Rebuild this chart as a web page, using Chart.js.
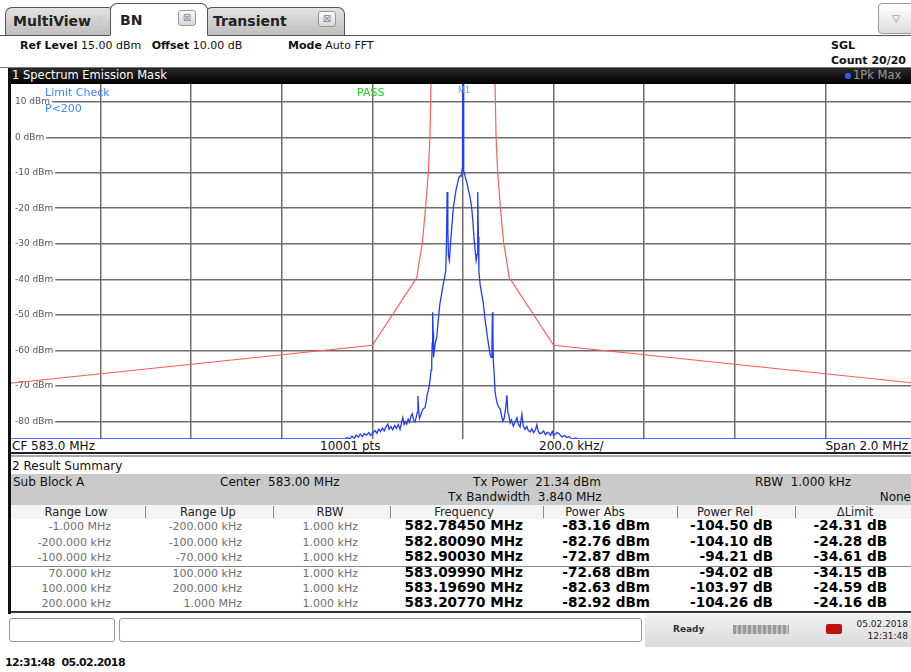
<!DOCTYPE html>
<html><head><meta charset="utf-8">
<script src="https://cdn.jsdelivr.net/npm/chart.js@4/dist/chart.umd.min.js"></script>
<style>
html,body{margin:0;padding:0;background:#fff;width:911px;height:672px;overflow:hidden;font-family:"DejaVu Sans",sans-serif;}
.a{position:absolute;white-space:nowrap;line-height:1;}
.tab{position:absolute;border:1px solid #555;border-bottom:none;border-radius:7px 7px 0 0;box-sizing:border-box;}
.cls{position:absolute;width:18px;height:16px;border:1px solid #999;border-radius:3px;background:linear-gradient(#fafafa,#d8d8d8);box-sizing:border-box;color:#888;font-size:10px;text-align:center;line-height:14px;}
</style></head><body>
<script>
// ---------------- data ----------------
const traceFreqKHz = [-1000,-262,-255,-250,-245,-240,-236,-231,-227,-222,-218,-213,-208,-204,-199,-194,-190,-186,-182,-178,-174,-170,-166,-163,-159,-155,-151,-147,-143,-139,-136,-133,-130,-127,-124,-121,-118,-115,-112,-109,-106,-103,-101,-99.5,-98,-96,-93,-90,-87,-84,-81,-79,-76,-74,-72,-70.5,-69,-68,-67,-66,-65,-62,-58,-55,-51,-47,-43.5,-40,-38,-36.5,-35,-33.5,-32,-30,-27,-24,-21,-18,-15.5,-12,-9.5,-6,-4,-2,-1,0,1,2,4,6,9,12,15,19,22,24,27,29,31,32.5,34,35,37.6,41,45,48,52,56,59.7,62,64,65,66,67,68.5,70.7,73,76,79,82,85,88,91,94,97,99,101,104,107,111,115,119,122,126,130,133,137,141,144,148,152,156,160,163,166,170,174,178,182,186,189,193,197,200,204,208,214,219,224,229,234,239,243,249,254,260,1000];
const traceDbm = [-85,-85,-84.6,-85,-84.2,-84.8,-83.9,-84.5,-83.6,-84.3,-83.5,-83.9,-83.2,-84.0,-83.3,-82.6,-83.4,-82.2,-82.9,-81.9,-82.7,-81.6,-80.8,-82.3,-81.5,-82.4,-81.2,-82.0,-80.9,-82.3,-80.6,-79.0,-80.9,-80.1,-80.8,-79.4,-80.3,-78.6,-77.9,-79.6,-80.2,-78.7,-77.5,-72.9,-76.8,-79.2,-78.1,-77.0,-76.4,-76.2,-74.3,-72.4,-71.1,-69.6,-67.5,-65.5,-63,-58,-49.3,-55,-62,-58.5,-56.4,-52,-46.9,-44,-41.3,-39,-37.5,-30,-15.4,-26,-33.5,-34.7,-29,-24,-19.6,-17,-14.9,-13,-11.5,-10.8,-11,-9,3,15,3,-9.5,-10.6,-11.7,-13,-14.9,-16.5,-19.6,-24,-28,-32,-34.7,-33,-15.4,-28,-37.5,-41.3,-44,-46.9,-50.5,-54.5,-58,-61,-62,-57,-49.3,-56,-63,-66,-71.5,-73.5,-75.2,-76.0,-76.5,-78.4,-80.0,-79.1,-76.5,-72.7,-77.5,-78.2,-80.5,-79.6,-81.4,-80.3,-79.0,-80.8,-81.6,-78.0,-81.2,-82.3,-81.5,-82.6,-83.0,-82.1,-83.2,-82.4,-81.0,-82.8,-83.5,-83.3,-82.7,-83.8,-83.1,-83.3,-84.0,-82.9,-84.0,-83.6,-83.2,-83.8,-84.5,-84.0,-84.6,-84.3,-84.9,-85,-84.7,-85,-85,-85];
const limitFreqKHz = [-1000,-200,-102,-98.7,-90,-82.5,-76.6,-73,-70.7,-69,69,70.7,73,76.6,82.5,90,98.7,102,200,1000];
const limitDbm = [-69.3,-58.6,-39.5,-36.7,-30,-19.7,-10,0,15,40,40,15,0,-10,-19.7,-30,-36.7,-39.5,-58.6,-69.3];
const yTickValues = [10,0,-10,-20,-30,-40,-50,-60,-70,-80];
const yTickUnit = 'dBm';
const xMinKHz = -1000, xMaxKHz = 1000, xStepKHz = 200;
const yMin = -85, yMax = 15;

const colHeads = ['Range Low','Range Up','RBW','Frequency','Power Abs','Power Rel','\u0394Limit'];
const rangeLow = ['-1.000 MHz','-200.000 kHz','-100.000 kHz','70.000 kHz','100.000 kHz','200.000 kHz'];
const rangeUp = ['-200.000 kHz','-100.000 kHz','-70.000 kHz','100.000 kHz','200.000 kHz','1.000 MHz'];
const rbwCol = ['1.000 kHz','1.000 kHz','1.000 kHz','1.000 kHz','1.000 kHz','1.000 kHz'];
const freqCol = ['582.78450 MHz','582.80090 MHz','582.90030 MHz','583.09990 MHz','583.19690 MHz','583.20770 MHz'];
const powAbs = ['-83.16 dBm','-82.76 dBm','-72.87 dBm','-72.68 dBm','-82.63 dBm','-82.92 dBm'];
const powRel = ['-104.50 dB','-104.10 dB','-94.21 dB','-94.02 dB','-103.97 dB','-104.26 dB'];
const dLimit = ['-24.31 dB','-24.28 dB','-34.61 dB','-34.15 dB','-24.59 dB','-24.16 dB'];
</script>

<!-- tabs -->
<div class="tab" style="left:5px;top:7px;width:110px;height:29px;background:linear-gradient(#e2e2e2,#bdbdbd);"></div>
<div class="a" style="left:13px;top:14px;font-size:14px;font-weight:bold;color:#222;">MultiView</div>
<div class="a" style="left:93px;top:14px;font-size:12px;color:#ccc;">&#8862;</div>
<div class="tab" style="left:110px;top:3px;width:98px;height:33px;background:#fff;z-index:2;border-bottom:1px solid #fff;"></div>
<div class="a" style="left:120px;top:13px;font-size:14px;font-weight:bold;color:#222;z-index:3;">BN</div>
<div class="cls" style="left:178px;top:10px;z-index:3;">&#8864;</div>
<div class="tab" style="left:205px;top:7px;width:140px;height:29px;background:linear-gradient(#e2e2e2,#bdbdbd);"></div>
<div class="a" style="left:213px;top:14px;font-size:14px;font-weight:bold;color:#222;">Transient</div>
<div class="cls" style="left:318px;top:11px;">&#8864;</div>
<div class="a" style="left:0;top:35px;width:911px;height:1px;background:#555;"></div>
<div class="a" style="left:878px;top:3px;width:36px;height:31px;border:1px solid #999;border-radius:4px;background:linear-gradient(#fff,#ddd);box-sizing:border-box;color:#888;font-size:10px;text-align:center;line-height:30px;">&#9661;</div>

<!-- info bar -->
<div class="a" style="left:20px;top:40px;font-size:11px;color:#111;"><b>Ref Level</b> 15.00 dBm &nbsp;&nbsp;<b>Offset</b> 10.00 dB</div>
<div class="a" style="left:288px;top:40px;font-size:11px;color:#111;"><b>Mode</b> Auto FFT</div>
<div class="a" style="left:831px;top:40px;font-size:11px;color:#111;font-weight:bold;">SGL</div>
<div class="a" style="left:831px;top:55px;font-size:11px;color:#111;font-weight:bold;">Count 20/20</div>
<div class="a" style="left:0;top:67px;width:911px;height:1px;background:#777;"></div>

<!-- title bar -->
<div class="a" style="left:8px;top:68px;width:903px;height:16px;background:linear-gradient(#2a2a2a,#000);"></div>
<div class="a" style="left:12px;top:70px;font-size:11.5px;color:#fff;">1 Spectrum Emission Mask</div>
<div class="a" style="left:845px;top:73px;width:6px;height:6px;border-radius:3px;background:#2f5bff;"></div>
<div class="a" style="left:853px;top:70px;font-size:11.5px;color:#9a9a9a;">1Pk Max</div>

<!-- chart -->
<div class="a" style="left:10px;top:84px;width:906px;height:355px;"><canvas id="c"></canvas></div>
<div class="a" style="left:8px;top:68px;width:3px;height:546px;background:#111;z-index:5;"></div>
<div class="a" style="left:45px;top:87px;font-size:11px;color:#3d86ff;z-index:4;">Limit Check</div>
<div class="a" style="left:45px;top:103px;font-size:11px;color:#3d86ff;z-index:4;">P&lt;200</div>
<div class="a" style="left:357px;top:87px;font-size:11px;color:#22d022;z-index:4;">PASS</div>
<div class="a" style="left:458px;top:87px;font-size:8px;color:#5aa0ff;z-index:4;">M1</div>

<!-- under chart strip -->
<div class="a" style="left:12px;top:440px;font-size:12px;color:#111;">CF 583.0 MHz</div>
<div class="a" style="left:320px;top:440px;font-size:12px;color:#111;">10001 pts</div>
<div class="a" style="left:539px;top:440px;font-size:12px;color:#111;">200.0 kHz/</div>
<div class="a" style="right:3px;top:440px;font-size:12px;color:#111;">Span 2.0 MHz</div>
<div class="a" style="left:8px;top:452px;width:903px;height:2px;background:#222;"></div>
<div class="a" style="left:8px;top:455px;width:903px;height:2px;background:#aaa;"></div>

<!-- result summary -->
<div class="a" style="left:12px;top:460px;font-size:12px;color:#111;">2 Result Summary</div>
<div class="a" style="left:11px;top:474px;width:900px;height:31px;background:#cacaca;"></div>
<div class="a" style="left:13px;top:476px;font-size:12px;color:#111;">Sub Block A</div>
<div class="a" style="left:220px;top:476px;font-size:12px;color:#111;">Center &nbsp;583.00 MHz</div>
<div class="a" style="left:473px;top:476px;font-size:12px;color:#111;">Tx Power &nbsp;21.34 dBm</div>
<div class="a" style="left:448px;top:491px;font-size:12px;color:#111;">Tx Bandwidth &nbsp;3.840 MHz</div>
<div class="a" style="left:755px;top:476px;font-size:12px;color:#111;">RBW &nbsp;1.000 kHz</div>
<div class="a" style="right:0px;top:491px;font-size:12px;color:#111;">None</div>
<div class="a" style="left:11px;top:505px;width:900px;height:14px;background:#f4f4f4;"></div>
<div id="tbl"></div>
<div class="a" style="left:11px;top:566px;width:900px;height:1px;background:#888;"></div>
<div class="a" style="left:8px;top:611px;width:903px;height:2px;background:#333;"></div>

<!-- status bar -->
<div class="a" style="left:645px;top:614px;width:266px;height:33px;background:linear-gradient(#f2f2f2,#dadada);"></div>
<div class="a" style="left:9px;top:618px;width:106px;height:24px;border:1px solid #999;border-radius:3px;box-sizing:border-box;background:#fff;"></div>
<div class="a" style="left:119px;top:618px;width:523px;height:24px;border:1px solid #999;border-radius:3px;box-sizing:border-box;background:#fff;"></div>
<div class="a" style="left:673px;top:625px;font-size:9px;font-weight:bold;color:#333;">Ready</div>
<div class="a" style="left:733px;top:625px;width:56px;height:9px;background:repeating-linear-gradient(90deg,#9a9a9a 0 3px,#c4c4c4 3px 5px);"></div>
<div class="a" style="left:826px;top:624px;width:16px;height:10px;background:#c01010;border-radius:2px;"></div>
<div class="a" style="right:3px;top:620px;font-size:9px;color:#222;">05.02.2018</div>
<div class="a" style="right:3px;top:632px;font-size:9px;color:#222;">12:31:48</div>
<div class="a" style="left:5px;top:657px;font-size:11px;font-weight:bold;color:#111;letter-spacing:-0.6px;">12:31:48 &nbsp;05.02.2018</div>

<script>
// ---------- table ----------
(function(){
  const t = document.getElementById('tbl');
  const heads = [76,208,330,464,595,725,855];
  const seps = [145,273,390,543,677,795];
  const rights = [111,242,358,523,650,773,887];
  const cols = [rangeLow,rangeUp,rbwCol,freqCol,powAbs,powRel,dLimit];
  const rowTop = [519,535,550,566,581,596];
  let h = '';
  colHeads.forEach((s,i)=>{ h += `<div class="a" style="left:${heads[i]-60}px;width:120px;text-align:center;top:507px;font-size:11.5px;color:#222;">${s}</div>`; });
  seps.forEach(x=>{ h += `<div class="a" style="left:${x}px;top:506px;width:1px;height:12px;background:#888;"></div>`; });
  cols.forEach((col,i)=>{
    col.forEach((s,r)=>{
      const bold = i>=3;
      h += `<div class="a" style="right:${911-rights[i]}px;top:${rowTop[r]+(bold?0:2)}px;font-size:${bold?'13.6px':'11px'};font-weight:${bold?'bold':'normal'};color:${bold?'#000':'#707070'};">${s}</div>`;
    });
  });
  t.innerHTML = h;
})();

// ---------- chart ----------
const tracePts = traceFreqKHz.map((f,i)=>({x:f,y:traceDbm[i]}));
const limitPts = limitFreqKHz.map((f,i)=>({x:f,y:limitDbm[i]}));
const noPad = s => { s.paddingTop = 0; s.paddingBottom = 0; s.paddingLeft = 0; s.paddingRight = 0; };
new Chart(document.getElementById('c'), {
  type: 'line',
  data: { datasets: [
    { label:'Limit', data: limitPts, borderColor:'#ff5c5c', borderWidth:1.2, pointRadius:0, tension:0, fill:false },
    { label:'1Pk Max', data: tracePts, borderColor:'#1f3cff', borderWidth:1.3, pointRadius:0, tension:0, fill:false, clip:{left:0,right:0,top:0,bottom:2} }
  ]},
  options: {
    responsive:true, maintainAspectRatio:false, animation:false,
    layout:{padding:0},
    plugins:{legend:{display:false}, tooltip:{enabled:false}},
    scales:{
      x:{ type:'linear', min:xMinKHz, max:xMaxKHz,
          ticks:{display:false, stepSize:xStepKHz},
          grid:{color:'#6e6e6e', lineWidth:1.5, drawTicks:false},
          border:{display:false},
          afterFit:s=>{ s.height=0; noPad(s); } },
      y:{ min:yMin, max:yMax,
          afterBuildTicks:s=>{ s.ticks = yTickValues.map(v=>({value:v})); },
          ticks:{ mirror:true, padding:5, color:'#555', font:{family:'DejaVu Sans', size:9},
                  callback:v=>v+' '+yTickUnit, showLabelBackdrop:true, backdropColor:'#fff',
                  backdropPadding:{left:5,right:2,top:0,bottom:0} },
          grid:{color:'#6e6e6e', lineWidth:1.5, drawTicks:false},
          border:{display:false},
          afterFit:s=>{ s.width=0; noPad(s); } }
    }
  }
});
</script>
</body></html>
